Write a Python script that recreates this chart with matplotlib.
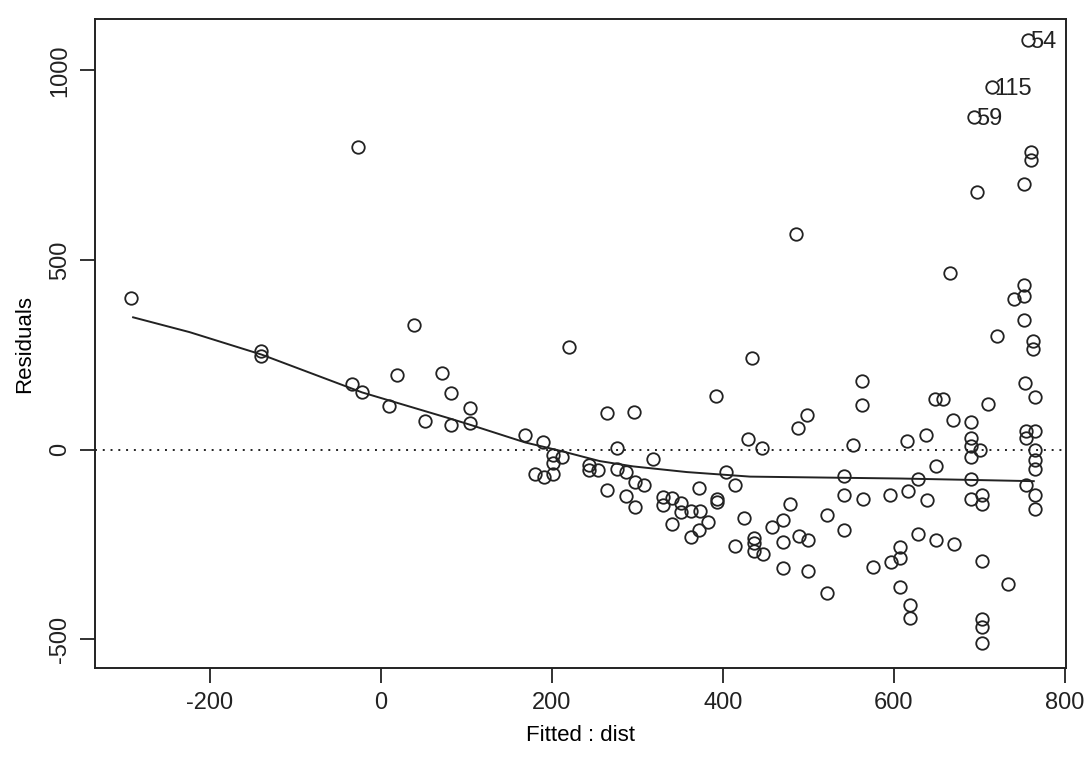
import matplotlib
matplotlib.use('Agg')
import matplotlib.pyplot as plt

plt.rcParams['font.family'] = ['Liberation Sans', 'DejaVu Sans']
plt.rcParams['axes.unicode_minus'] = False

# fitted values and residuals
fitted = [-292, -27, -140, -140, 39, -34, -22, 19, 9, 52, 71, 82, 82, 104, 104,
          220, 169, 190, 201, 212, 201, 180, 191, 201, 244, 244, 254, 265, 296, 276,
          318, 276, 287, 297, 308, 265, 287, 297, 392, 404, 414, 372, 330, 341, 330,
          351, 351, 363, 373, 393, 393, 383, 341, 372, 363, 425, 414, 430, 434,
          486, 446, 488, 499, 553, 563, 563, 616, 638, 648, 658, 666, 669, 690, 690,
          690, 701, 690, 650, 711, 721, 753, 753, 741, 753, 763, 763, 754, 765, 755,
          766, 755, 766, 766, 766, 766, 766, 757, 715, 694, 761, 761, 752, 698,
          542, 628, 691, 755, 542, 564, 596, 617, 639, 691, 703, 703, 479, 522, 458,
          470, 437, 437, 437, 447, 470, 489, 500, 542, 629, 650, 671, 608, 608, 597,
          470, 500, 576, 522, 608, 619, 619, 704, 734, 704, 704, 704]
resid = [399, 797, 261, 246, 330, 172, 153, 197, 116, 75, 203, 150, 64, 110, 71,
         270, 38, 21, -13, -18, -36, -65, -73, -63, -40, -53, -53, 98, 100, 4,
         -24, -51, -60, -86, -92, -106, -123, -152, 142, -60, -92, -101, -126, -127, -145,
         -140, -164, -161, -162, -131, -139, -191, -195, -212, -230, -181, -255, 28, 241,
         568, 4, 58, 92, 12, 182, 119, 24, 39, 133, 133, 466, 77, 74, 32,
         11, 0, -18, -43, 121, 299, 435, 406, 396, 343, 287, 266, 177, 140, 49,
         49, 30, -1, -28, -51, -119, -156, 1080, 955, 877, 786, 763, 700, 680,
         -69, -76, -78, -93, -119, -130, -120, -108, -132, -130, -120, -144, -144, -171, -203,
         -185, -234, -247, -266, -276, -243, -228, -239, -211, -221, -237, -248, -257, -286, -296,
         -311, -320, -309, -378, -362, -410, -444, -293, -355, -446, -467, -509]

# smooth curve through the residuals
smooth_x = [-290, -224, -140, -22, 81, 104, 169, 210, 256, 295, 358, 432, 608, 764]
smooth_y = [349, 310, 251, 151, 82, 66, 19, -3, -30, -44, -59, -71, -76, -83]

# labelled points
lab_x = [757, 715, 694]
lab_y = [1080, 955, 877]
lab_txt = ['54', '115', '59']

fig = plt.figure(figsize=(10.88, 7.68), dpi=100)
ax = fig.add_axes([0.087, 0.13, 0.893, 0.845])

ax.plot(fitted, resid, 'o', mfc='none', mec='#222222', ms=9, mew=1.3)
ax.plot(smooth_x, smooth_y, '-', color='#222222', lw=1.4)
ax.axhline(0, color='#222222', lw=1.4, ls=(0, (1, 3)))
for x, y, t in zip(lab_x, lab_y, lab_txt):
    ax.text(x + 3, y - 5, t, fontsize=17, va='center', ha='left', color='#222222')

ax.set_xlim(-335, 802)
ax.set_ylim(-576, 1135)
ax.set_xticks([-200, 0, 200, 400, 600, 800])
ax.set_yticks([-500, 0, 500, 1000])
ax.tick_params(direction='out', length=11, width=1.3, labelsize=17, colors='#222222', pad=6)
for lbl in ax.get_yticklabels():
    lbl.set_rotation(90)
    lbl.set_va('center')
for s in ax.spines.values():
    s.set_linewidth(1.4)
    s.set_color('#222222')

ax.set_xlabel('Fitted : dist', fontsize=16, labelpad=8)
ax.set_ylabel('Residuals', fontsize=16, labelpad=10)

fig.savefig('out.png', dpi=100)
